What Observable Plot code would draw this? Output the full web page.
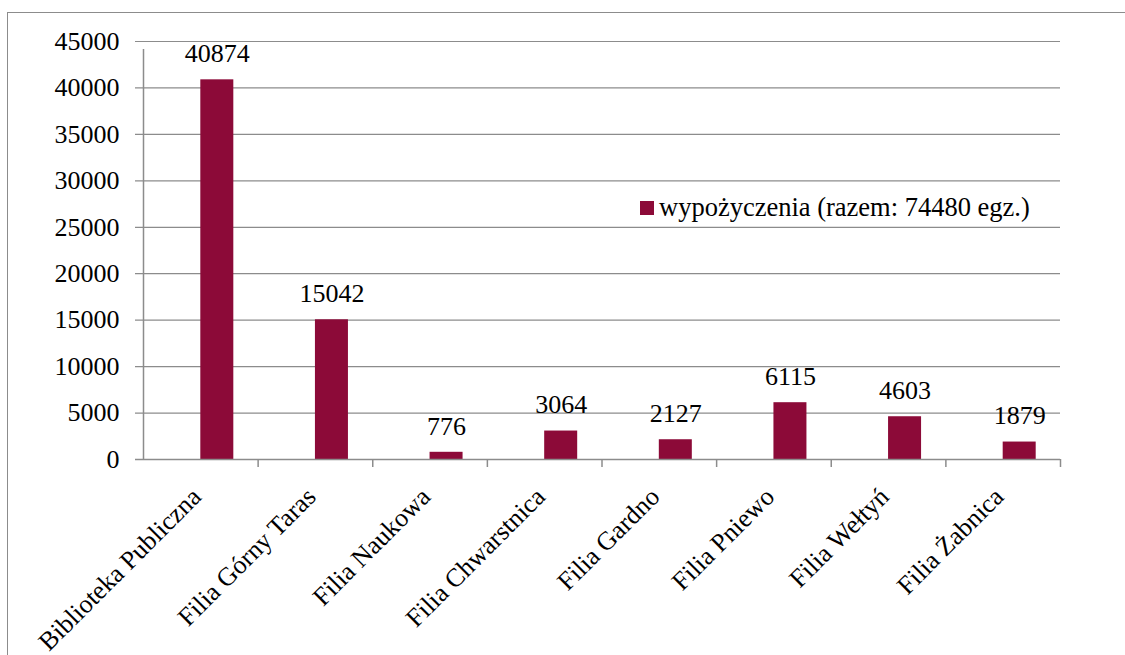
<!DOCTYPE html>
<html>
<head>
<meta charset="utf-8">
<script src="https://cdn.jsdelivr.net/npm/d3@7"></script>
<script src="https://cdn.jsdelivr.net/npm/@observablehq/plot@0.6"></script>
<style>
  html, body { margin: 0; padding: 0; background: #fff; overflow: hidden; }
  #wrap { position: relative; width: 1125px; height: 655px; }
  #border { position: absolute; left: 7px; top: 12px; width: 1300px; height: 800px;
            border: 1.5px solid #8c8c8c; box-sizing: border-box; }
  #chart { position: absolute; left: 0; top: 0; }
  #chart svg, #chart svg text { font-family: "Liberation Serif", "Times New Roman", serif !important; }
  #legend { position: absolute; left: 640px; top: 192px; display: flex; align-items: center;
            font-family: "Liberation Serif", "Times New Roman", serif; font-size: 26.5px; color: #000; }
  #legend .sw { width: 14px; height: 14px; background: #8c0a38; margin-right: 5px; }
</style>
</head>
<body>
<div id="wrap">
  <div id="border"></div>
  <div id="chart"></div>
  <div id="legend"><span class="sw"></span><span id="legtext"></span></div>
</div>
<script>
const categories = ["Biblioteka Publiczna", "Filia Górny Taras", "Filia Naukowa", "Filia Chwarstnica",
                    "Filia Gardno", "Filia Pniewo", "Filia Wełtyń", "Filia Żabnica"];
const loans = [40874, 15042, 776, 3064, 2127, 6115, 4603, 1879];
const yTicks = [0, 5000, 10000, 15000, 20000, 25000, 30000, 35000, 40000, 45000];
const seriesName = "wypożyczenia (razem: 74480 egz.)";

document.getElementById("legtext").textContent = seriesName;

const data = categories.map((c, i) => ({category: c, value: loans[i]}));

const W = 1125, H = 655;
const mL = 143, mR = 65, mT = 41, mB = 196;
const bw = (W - mL - mR) / categories.length;
const barW = 33;
const font = "'Liberation Serif', 'Times New Roman', serif";
const grid = "#8c8c8c";

const chart = Plot.plot({
  width: W, height: H,
  marginLeft: mL, marginRight: mR, marginTop: mT, marginBottom: mB,
  style: {fontFamily: font, fontSize: "26px", color: "#000", background: "transparent"},
  x: {domain: categories, padding: 0, round: false, axis: null},
  y: {domain: [0, 45000], ticks: yTicks, axis: null, label: null},
  marks: [
    Plot.ruleY(yTicks.filter(d => d > 0), {stroke: grid, strokeWidth: 1.2, insetLeft: -8}),
    Plot.barY(data, {x: "category", y: "value", fill: "#8c0a38",
                     insetLeft: bw / 2, insetRight: bw / 2 - barW}),
    Plot.ruleY([0], {stroke: grid, strokeWidth: 1.5, insetLeft: -8}),
    // category boundary ticks and the y axis line
    Plot.ruleX([categories[0]], {x: d => d, y1: 0, y2: 45000, dx: -bw / 2, stroke: grid, strokeWidth: 1.5, insetBottom: -8}),
    Plot.ruleX(categories.slice(1), {x: d => d, y1: 0, y2: 0, dx: -bw / 2, stroke: grid, strokeWidth: 1.5, insetBottom: -8}),
    Plot.ruleX([categories[categories.length - 1]], {x: d => d, y1: 0, y2: 0, dx: bw / 2, stroke: grid, strokeWidth: 1.5, insetBottom: -8}),
    Plot.axisY({ticks: yTicks, tickSize: 0, tickPadding: 24, tickFormat: d => String(d), label: null,
                fontSize: 26, fontFamily: font, stroke: grid, textStroke: "none"}),
    Plot.text(data, {x: "category", y: "value", text: d => String(d.value), dx: barW / 2, dy: -26,
                     fontSize: 26, fontFamily: font, fill: "#000"}),
    Plot.text(categories, {x: d => d, y: () => 0, text: d => d, rotate: -45, textAnchor: "end",
                           dx: -4, dy: 33, fontSize: 26, fontFamily: font, fill: "#000"})
  ]
});
document.getElementById("chart").appendChild(chart);
</script>
</body>
</html>
